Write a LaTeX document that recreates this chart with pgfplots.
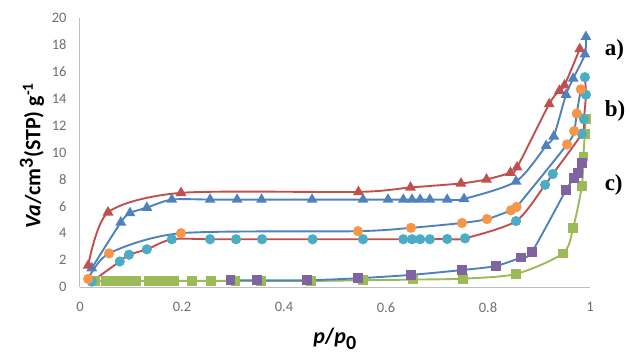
\documentclass[border=0pt]{standalone}
\usepackage{pgfplots}
\pgfplotsset{compat=1.18}
\usepackage{fontspec}
\setmainfont{Carlito}
\newfontfamily\tnr{Liberation Serif}
\definecolor{xblue}{HTML}{4F81BD}
\definecolor{xred}{HTML}{C0504D}
\definecolor{xgreen}{HTML}{9BBB59}
\definecolor{xpurple}{HTML}{8064A2}
\definecolor{xteal}{HTML}{4BACC6}
\definecolor{xorange}{HTML}{F79646}
\definecolor{ticktext}{RGB}{110,110,110}
\definecolor{axisgray}{RGB}{190,190,190}
\begin{document}
\begin{tikzpicture}
\begin{axis}[
  scale only axis, width=510pt, height=269pt,
  xmin=0, xmax=1, ymin=0, ymax=20,
  axis x line=bottom, axis y line=left,
  axis line style={draw=axisgray, line width=1pt, -},
  major tick length=0pt,
  xtick={0,0.2,0.4,0.6,0.8,1}, xticklabels={0,0.2,0.4,0.6,0.8,1},
  ytick={0,2,4,6,8,10,12,14,16,18,20}, yticklabels={0,2,4,6,8,10,12,14,16,18,20},
  tick label style={font=\fontsize{14.5}{16}\selectfont, text=ticktext},
  xticklabel style={yshift=-12pt},
  yticklabel style={xshift=-10pt},
  clip=false,
  xlabel={\textbf{\textit{p}/\textit{p}\textsubscript{\fontsize{20}{22}\selectfont 0}}},
  ylabel={\textbf{\textit{Va}/cm\textsuperscript{\fontsize{20}{22}\selectfont 3}(STP) g\textsuperscript{-1}}},
  every axis x label/.style={at={(rel axis cs:0.5,0)}, yshift=-52pt, anchor=center, font=\fontsize{22}{24}\selectfont},
  every axis y label/.style={at={(rel axis cs:0,0.5)}, xshift=-48pt, yshift=-3pt, rotate=90, anchor=center, font=\fontsize{22}{24}\selectfont},
]
\coordinate (O) at (rel axis cs:0,0);
% c) green line, green squares
\addplot[smooth, tension=0.45, color=xgreen, line width=1.9pt, mark=square*, mark size=3.9pt, mark options={fill=xgreen, draw=xgreen}] coordinates {
(0.03,0.45)(0.05,0.45)(0.062,0.45)(0.075,0.45)(0.09,0.45)(0.11,0.45)(0.135,0.45)(0.15,0.45)(0.165,0.45)(0.185,0.45)(0.22,0.45)(0.257,0.45)(0.305,0.45)(0.355,0.45)(0.453,0.45)(0.555,0.5)(0.653,0.55)(0.751,0.62)(0.855,0.97)(0.947,2.5)(0.967,4.4)(0.984,7.5)(0.987,9.7)(0.99,11.4)(0.992,12.5)};
% c) blue line, purple squares
\addplot[smooth, tension=0.45, color=xblue, line width=1.9pt, mark=square*, mark size=3.9pt, mark options={fill=xpurple, draw=xpurple}] coordinates {
(0.295,0.5)(0.347,0.5)(0.445,0.5)(0.545,0.65)(0.649,0.9)(0.749,1.26)(0.815,1.56)(0.865,2.2)(0.886,2.6)(0.953,7.2)(0.969,8.1)(0.976,8.5)(0.984,9.2)};
% b) red line, teal circles
\addplot[smooth, tension=0.45, color=xred, line width=1.9pt, mark=*, mark size=4.1pt, mark options={fill=xteal, draw=xteal}] coordinates {
(0.023,0.4)(0.078,1.9)(0.096,2.4)(0.131,2.8)(0.18,3.55)(0.255,3.55)(0.306,3.55)(0.357,3.55)(0.456,3.55)(0.555,3.55)(0.634,3.55)(0.651,3.55)(0.667,3.55)(0.686,3.55)(0.72,3.57)(0.755,3.62)(0.855,4.9)(0.912,7.6)(0.927,8.4)(0.984,11.4)(0.988,12.5)(0.992,14.3)(0.99,15.6)};
% b) blue line, orange circles
\addplot[smooth, tension=0.45, color=xblue, line width=1.9pt, mark=*, mark size=4.1pt, mark options={fill=xorange, draw=xorange}] coordinates {
(0.016,0.6)(0.057,2.5)(0.198,4.0)(0.545,4.15)(0.649,4.4)(0.749,4.76)(0.798,5.05)(0.845,5.7)(0.856,5.95)(0.955,10.6)(0.969,11.6)(0.974,12.9)(0.982,14.7)};
% a) blue line, blue triangles
\addplot[smooth, tension=0.45, color=xblue, line width=1.9pt, mark=triangle*, mark size=4.4pt, mark options={fill=xblue, draw=xblue}] coordinates {
(0.023,1.4)(0.08,4.8)(0.098,5.5)(0.131,5.9)(0.18,6.5)(0.255,6.5)(0.308,6.5)(0.356,6.5)(0.455,6.5)(0.555,6.5)(0.604,6.5)(0.634,6.5)(0.651,6.5)(0.667,6.5)(0.686,6.5)(0.72,6.5)(0.753,6.55)(0.855,7.85)(0.914,10.5)(0.929,11.2)(0.953,14.3)(0.967,15.5)(0.99,17.3)(0.992,18.6)};
% a) red line, red triangles
\addplot[smooth, tension=0.45, color=xred, line width=1.9pt, mark=triangle*, mark size=4.4pt, mark options={fill=xred, draw=xred}] coordinates {
(0.016,1.6)(0.055,5.55)(0.198,7.0)(0.546,7.07)(0.648,7.4)(0.747,7.7)(0.797,8.0)(0.844,8.5)(0.857,8.9)(0.92,13.6)(0.94,14.6)(0.95,15.0)(0.98,17.7)};
\node[anchor=west, font=\tnr\bfseries\fontsize{23}{25}\selectfont] at (axis cs:1.022,17.6) {a)};
\node[anchor=west, font=\tnr\bfseries\fontsize{23}{25}\selectfont] at (axis cs:1.022,13.1) {b)};
\node[anchor=west, font=\tnr\bfseries\fontsize{23}{25}\selectfont] at (axis cs:1.022,7.6) {c)};
\end{axis}
\path (O) ++(-80pt,-67pt) rectangle ++(630pt,354pt);
\end{tikzpicture}
\end{document}
